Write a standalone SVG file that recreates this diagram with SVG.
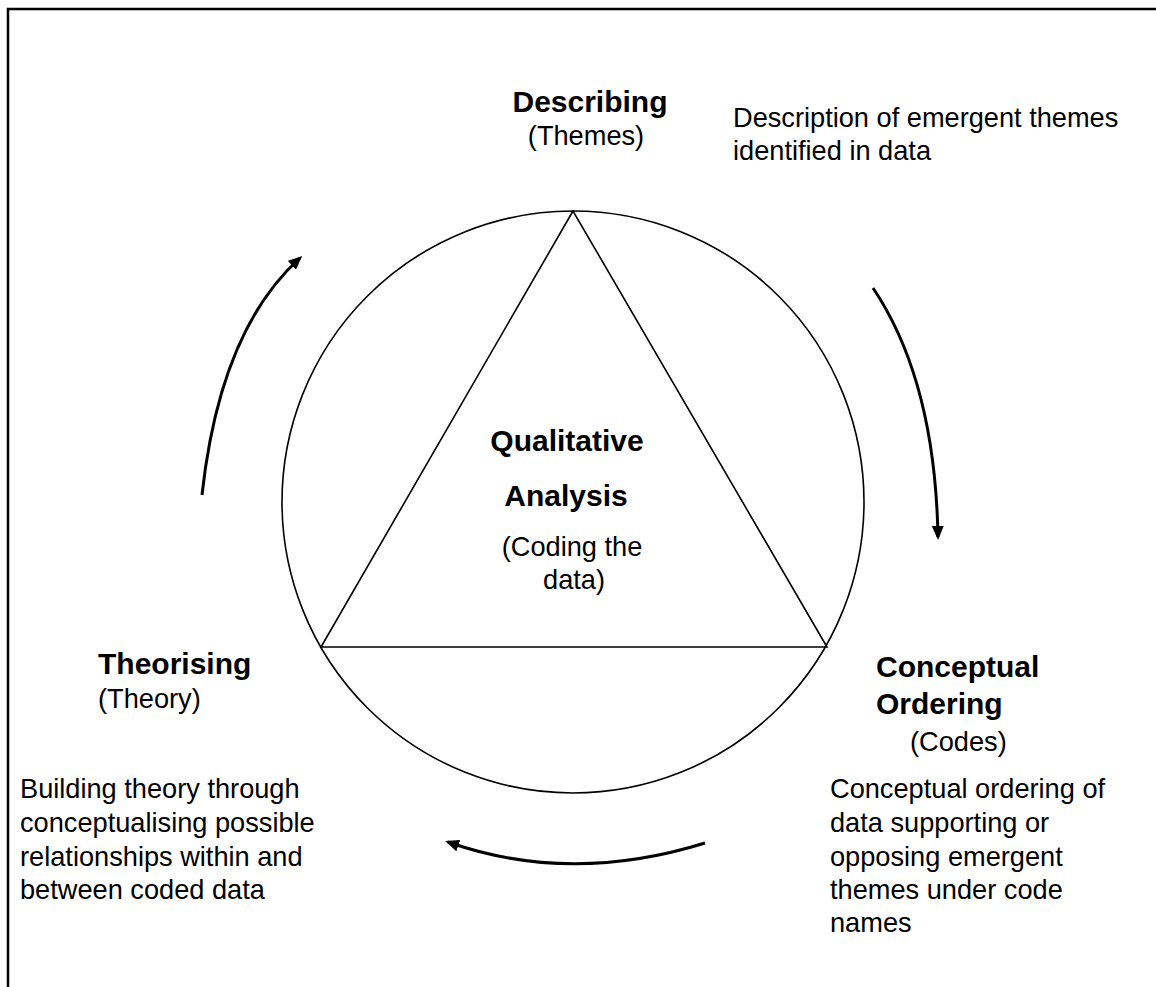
<svg xmlns="http://www.w3.org/2000/svg" width="1156" height="987" viewBox="0 0 1156 987">
<style>
.b{font-family:"Liberation Sans",Arial,sans-serif;font-weight:bold;font-size:30px;fill:#000}
.r{font-family:"Liberation Sans",Arial,sans-serif;font-size:27.2px;fill:#000}
.arr{fill:none;stroke:#000;stroke-width:3}
.shape{fill:none;stroke:#000;stroke-width:1.6}
</style>
<defs>
<marker id="ah" markerUnits="userSpaceOnUse" markerWidth="14" markerHeight="12" refX="11" refY="6" orient="auto">
<path d="M0,0 L14,6 L0,12 z" fill="#000"/>
</marker>
</defs>
<rect x="0" y="0" width="1156" height="987" fill="#fff"/>
<rect x="8" y="9" width="1170" height="1010" fill="none" stroke="#000" stroke-width="2.5"/>
<g id="core">
<circle class="shape" cx="573" cy="502" r="291"/>
<polygon class="shape" points="573,211 321,647 827,647"/>
<text class="b" x="567" y="451" text-anchor="middle">Qualitative</text>
<text class="b" x="566" y="506" text-anchor="middle">Analysis</text>
<text class="r" x="572" y="556" text-anchor="middle">(Coding the</text>
<text class="r" x="574" y="589" text-anchor="middle">data)</text>
</g>
<g id="describing">
<text class="b" x="590" y="112" text-anchor="middle">Describing</text>
<text class="r" x="586" y="145" text-anchor="middle">(Themes)</text>
<text class="r" x="733" y="127">Description of emergent themes</text>
<text class="r" x="733" y="160">identified in data</text>
</g>
<g id="conceptual">
<text class="b" x="876" y="677">Conceptual</text>
<text class="b" x="876" y="714">Ordering</text>
<text class="r" x="910" y="751">(Codes)</text>
<text class="r" x="830" y="798">Conceptual ordering of</text>
<text class="r" x="830" y="832">data supporting or</text>
<text class="r" x="830" y="866">opposing emergent</text>
<text class="r" x="830" y="899">themes under code</text>
<text class="r" x="830" y="932">names</text>
</g>
<g id="theorising">
<text class="b" x="98" y="674">Theorising</text>
<text class="r" x="98" y="708">(Theory)</text>
<text class="r" x="20" y="798">Building theory through</text>
<text class="r" x="20" y="832">conceptualising possible</text>
<text class="r" x="20" y="866">relationships within and</text>
<text class="r" x="20" y="899">between coded data</text>
</g>
<g id="connectors">
<path class="arr" d="M202,495 Q220,330 300,258" marker-end="url(#ah)"/>
<path class="arr" d="M873,288 Q935,380 938,537" marker-end="url(#ah)"/>
<path class="arr" d="M705,843 Q570,885 448,842" marker-end="url(#ah)"/>
</g>
</svg>
